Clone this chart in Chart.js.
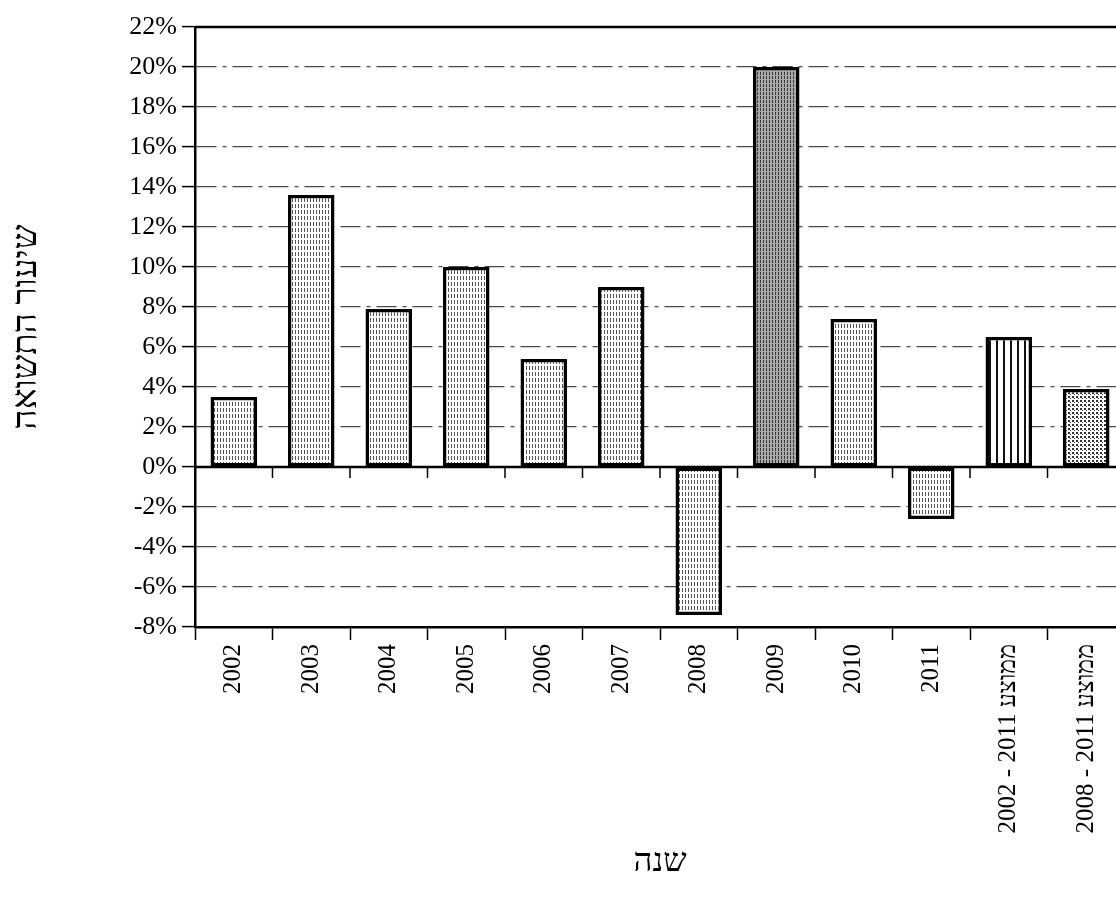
<!DOCTYPE html>
<html>
<head>
<meta charset="utf-8">
<script src="https://cdn.jsdelivr.net/npm/chart.js@4/dist/chart.umd.min.js"></script>
<style>
    html, body { margin: 0; padding: 0; background: #fff; overflow: hidden; }
    #wrap { width: 1116px; height: 912px; overflow: hidden; }
</style>
</head>
<body>
<div id="wrap"><canvas id="returnsChart" width="1125" height="912"></canvas></div>
<script>
// נתונים
const years = ["2002", "2003", "2004", "2005", "2006", "2007", "2008", "2009", "2010", "2011",
    "2002 - 2011 ממוצע", "2008 - 2011 ממוצע"];
const returnRates = [3.5, 13.6, 7.9, 10.0, 5.4, 9.0, -7.4, 20.0, 7.4, -2.6, 6.5, 3.9];
const yMin = -8;
const yMax = 22;
const yStep = 2;

const serifFont = "'Liberation Serif', 'Times New Roman', serif";

function makePattern(w, h, draw) {
    const c = document.createElement("canvas");
    c.width = w;
    c.height = h;
    const g = c.getContext("2d");
    g.fillStyle = "#fff";
    g.fillRect(0, 0, w, h);
    draw(g);
    return c.getContext("2d").createPattern(c, "repeat");
}

const ctx = document.getElementById("returnsChart").getContext("2d");

const patterns = {
    light: makePattern(3, 6, (g) => {
        g.fillStyle = "#555";
        g.fillRect(1, 0, 1, 4);
    }),
    dense: makePattern(3, 4, (g) => {
        g.fillStyle = "#a8a8a8";
        g.fillRect(0, 0, 3, 4);
        g.fillStyle = "#3a3a3a";
        g.fillRect(1, 0, 1, 3);
    }),
    stripes: makePattern(7, 4, (g) => {
        g.fillStyle = "#111";
        g.fillRect(2, 0, 2, 4);
    }),
    dots: makePattern(4, 4, (g) => {
        g.fillStyle = "#333";
        g.fillRect(0, 0, 2, 2);
        g.fillRect(2, 2, 1, 1);
    }),
};

function barFill(context) {
    const i = context.dataIndex;
    if (i === 7) return patterns.dense;
    if (i === 10) return patterns.stripes;
    if (i === 11) return patterns.dots;
    return patterns.light;
}

// קו אפס ומסגרת עליונה
const framePlugin = {
    id: "framePlugin",
    afterDatasetsDraw(chart) {
        const { ctx: c, chartArea, scales } = chart;
        const y0 = scales.y.getPixelForValue(0);
        c.save();
        c.strokeStyle = "#000";
        c.lineWidth = 2.5;
        c.beginPath();
        c.moveTo(chartArea.left, chartArea.top);
        c.lineTo(chartArea.right, chartArea.top);
        c.moveTo(chartArea.left, y0);
        c.lineTo(chartArea.right, y0);
        c.stroke();
        c.lineWidth = 1.5;
        c.beginPath();
        const n = scales.x.ticks.length;
        for (let i = 1; i < n; i += 1) {
            const x = (scales.x.getPixelForTick(i - 1) + scales.x.getPixelForTick(i)) / 2;
            c.moveTo(x, y0);
            c.lineTo(x, y0 + 11);
        }
        c.stroke();
        c.restore();
    },
};

new Chart(ctx, {
    type: "bar",
    data: {
        labels: years,
        datasets: [
            {
                label: "שיעור התשואה",
                data: returnRates,
                backgroundColor: barFill,
                borderColor: "#000",
                borderWidth: 3.5,
                borderSkipped: false,
                categoryPercentage: 1.0,
                barPercentage: 0.6,
            },
        ],
    },
    options: {
        responsive: false,
        animation: false,
        layout: { padding: { top: 27, right: 0, bottom: 0, left: 0 } },
        plugins: {
            legend: { display: false },
            tooltip: { enabled: false },
        },
        scales: {
            x: {
                grid: {
                    offset: true,
                    drawOnChartArea: false,
                    tickLength: 13,
                    tickColor: "#000",
                    tickWidth: 1.5,
                },
                border: { color: "#000", width: 2.5 },
                ticks: {
                    color: "#000",
                    font: { family: serifFont, size: 25 },
                    minRotation: 90,
                    maxRotation: 90,
                    autoSkip: false,
                    padding: 4,
                },
                title: {
                    display: true,
                    text: "שנה",
                    color: "#000",
                    font: { family: serifFont, size: 33 },
                    padding: { top: 0, bottom: 30 },
                },
                afterFit(scale) {
                    scale.height = 285;
                },
            },
            y: {
                min: yMin,
                max: yMax,
                ticks: {
                    stepSize: yStep,
                    color: "#000",
                    font: { family: serifFont, size: 26 },
                    padding: 5,
                    callback: (v) => `${v}%`,
                },
                grid: {
                    color: "#4a4a4a",
                    lineWidth: 1.2,
                    tickLength: 13,
                    tickColor: "#000",
                    tickWidth: 1.5,
                },
                border: { color: "#000", width: 2.5, dash: [20, 6, 4, 6] },
                title: {
                    display: true,
                    text: "שיעור התשואה",
                    color: "#000",
                    font: { family: serifFont, size: 35 },
                    padding: { top: 6, bottom: 0 },
                },
                afterFit(scale) {
                    scale.width = 195;
                },
            },
        },
    },
    plugins: [framePlugin],
});
</script>
</body>
</html>
